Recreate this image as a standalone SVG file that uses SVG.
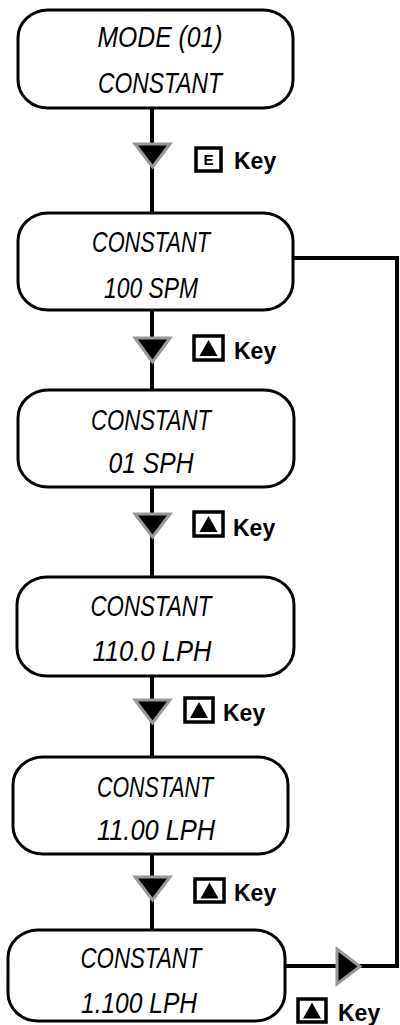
<svg xmlns="http://www.w3.org/2000/svg" width="400" height="1025" viewBox="0 0 400 1025">
<style>
.node{fill:#fff;stroke:#000;stroke-width:3}
.lcd{font-family:"Liberation Sans",Arial,sans-serif;font-style:italic;font-size:29px;fill:#000;text-anchor:middle}
.wire{fill:none;stroke:#000;stroke-width:4}
.arr{fill:#000;stroke:#999;stroke-width:3;stroke-linejoin:miter}
.kbox{fill:#fff;stroke:#000;stroke-width:3.5}
.key{font-family:"Liberation Sans",Arial,sans-serif;font-weight:bold;font-size:23px;fill:#000}
.kE{font-family:"Liberation Sans",Arial,sans-serif;font-weight:bold;font-size:15px;fill:#000;text-anchor:middle}
</style>
<defs>
<path id="tri" d="M-9,8 L9,8 L0,-8 Z" fill="#000"/>
</defs>
<g id="connectors">
<line class="wire" x1="152" y1="108" x2="152" y2="213"/>
<line class="wire" x1="152" y1="310" x2="152" y2="390"/>
<line class="wire" x1="152" y1="487" x2="152" y2="577"/>
<line class="wire" x1="152" y1="676" x2="152" y2="757"/>
<line class="wire" x1="152" y1="854" x2="152" y2="930"/>
<polyline class="wire" points="285,966 397,966 397,258 293,258"/>
<polygon class="arr" points="135,144 170,144 152.5,167"/>
<polygon class="arr" points="135,338 170,338 152.5,362"/>
<polygon class="arr" points="135,514 170,514 152.5,537"/>
<polygon class="arr" points="135,700 170,700 152.5,723"/>
<polygon class="arr" points="135,877 170,877 152.5,900"/>
<polygon class="arr" points="337,949 337,984 360,966.5"/>
</g>
<g id="n1"><rect class="node" x="18" y="10" width="275" height="98" rx="30" ry="28"/>
<text class="lcd" x="160" y="47" textLength="125" lengthAdjust="spacingAndGlyphs">MODE (01)</text><text class="lcd" x="160" y="93" textLength="124" lengthAdjust="spacingAndGlyphs">CONSTANT</text></g>
<g id="n2"><rect class="node" x="18" y="213" width="275" height="97" rx="30" ry="28"/>
<text class="lcd" x="151" y="252" textLength="118" lengthAdjust="spacingAndGlyphs">CONSTANT</text><text class="lcd" x="151" y="298" textLength="94" lengthAdjust="spacingAndGlyphs">100 SPM</text></g>
<g id="n3"><rect class="node" x="18" y="390" width="276" height="97" rx="30" ry="28"/>
<text class="lcd" x="151" y="430" textLength="120" lengthAdjust="spacingAndGlyphs">CONSTANT</text><text class="lcd" x="151" y="473" textLength="85" lengthAdjust="spacingAndGlyphs">01 SPH</text></g>
<g id="n4"><rect class="node" x="17" y="577" width="277" height="99" rx="30" ry="28"/>
<text class="lcd" x="151" y="616" textLength="121" lengthAdjust="spacingAndGlyphs">CONSTANT</text><text class="lcd" x="152" y="661" textLength="119" lengthAdjust="spacingAndGlyphs">110.0 LPH</text></g>
<g id="n5"><rect class="node" x="13" y="757" width="275" height="97" rx="30" ry="28"/>
<text class="lcd" x="155" y="797" textLength="116" lengthAdjust="spacingAndGlyphs">CONSTANT</text><text class="lcd" x="156" y="840" textLength="118" lengthAdjust="spacingAndGlyphs">11.00 LPH</text></g>
<g id="n6"><rect class="node" x="8" y="930" width="277" height="91" rx="30" ry="28"/>
<text class="lcd" x="141" y="968" textLength="121" lengthAdjust="spacingAndGlyphs">CONSTANT</text><text class="lcd" x="139" y="1013" textLength="116" lengthAdjust="spacingAndGlyphs">1.100 LPH</text></g>
<g id="k1"><rect class="kbox" x="196" y="148" width="25" height="23"/><text class="kE" x="208.5" y="165">E</text><text class="key" x="234" y="169">Key</text></g>
<g id="k2"><rect class="kbox" x="194" y="336" width="29" height="24"/><use href="#tri" x="208.5" y="348"/><text class="key" x="234" y="359">Key</text></g>
<g id="k3"><rect class="kbox" x="194" y="512" width="29" height="24"/><use href="#tri" x="208.5" y="524"/><text class="key" x="233" y="536">Key</text></g>
<g id="k4"><rect class="kbox" x="185" y="698" width="28" height="24"/><use href="#tri" x="199" y="710"/><text class="key" x="223" y="721">Key</text></g>
<g id="k5"><rect class="kbox" x="195" y="879" width="29" height="23"/><use href="#tri" x="209.5" y="890.5"/><text class="key" x="234" y="901">Key</text></g>
<g id="k6"><rect class="kbox" x="298" y="999" width="28" height="23"/><use href="#tri" x="312" y="1010.5"/><text class="key" x="338" y="1021">Key</text></g>
</svg>
